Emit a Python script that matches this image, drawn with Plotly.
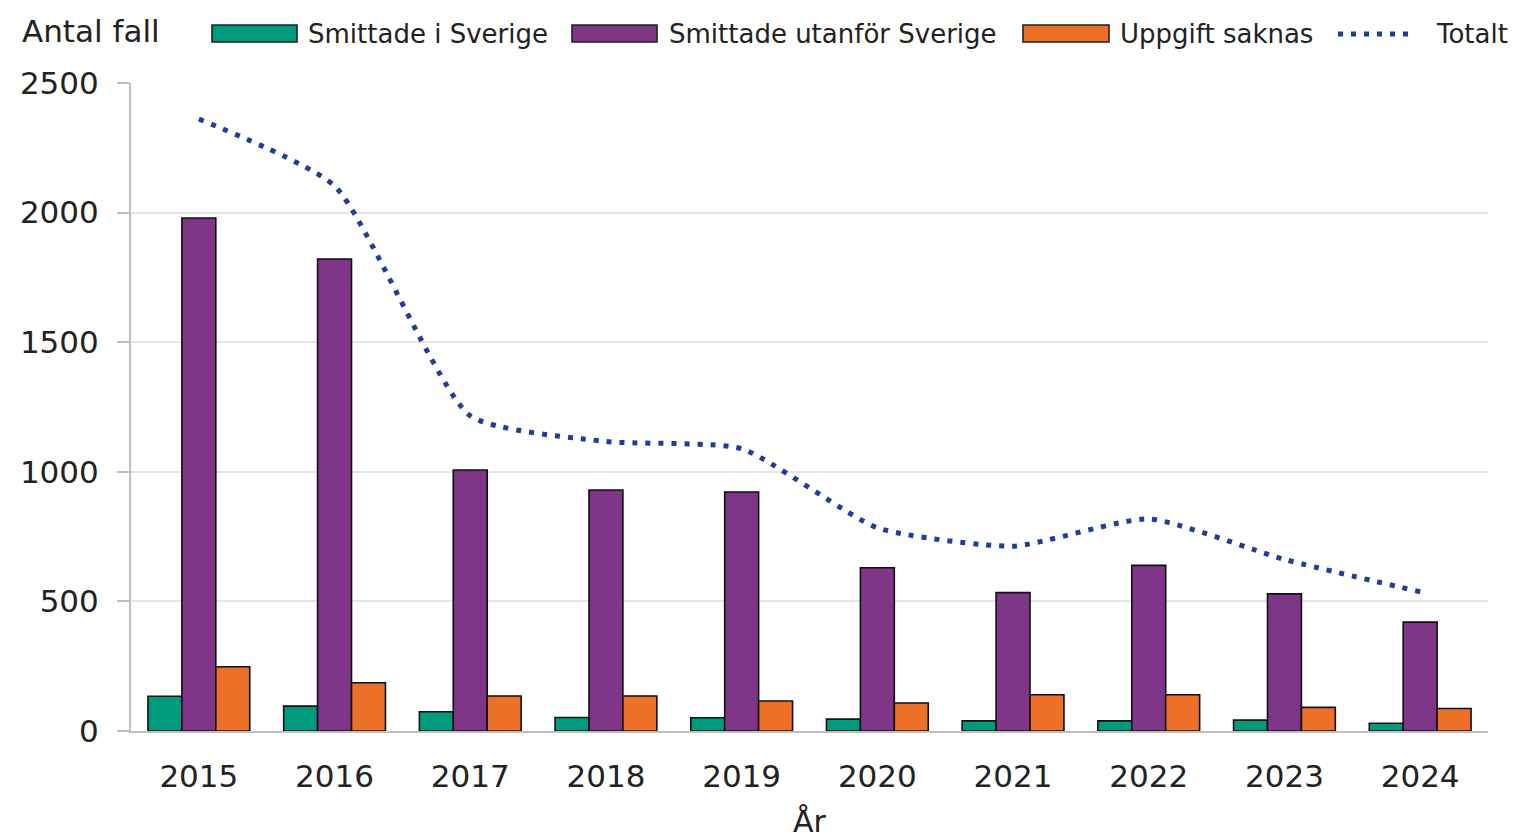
import plotly.graph_objects as go

# ---- data ----
years = ["2015", "2016", "2017", "2018", "2019", "2020", "2021", "2022", "2023", "2024"]
smittade_i_sverige = [134, 96, 74, 52, 51, 46, 39, 39, 42, 30]
smittade_utanfor = [1979, 1821, 1007, 930, 922, 630, 534, 639, 529, 420]
uppgift_saknas = [248, 186, 135, 135, 116, 108, 140, 140, 91, 87]
totalt = [2361, 2103, 1216, 1117, 1089, 784, 713, 818, 662, 537]

series_names = ["Smittade i Sverige", "Smittade utanför Sverige", "Uppgift saknas", "Totalt"]
colors = ["#009B7D", "#7F3588", "#EC7027", "#1F3D99"]
y_ticks = [0, 500, 1000, 1500, 2000, 2500]

# ---- layout geometry ----
W, H = 1517, 840
L, R, T, B = 131, 29, 83, 109
FONT = "DejaVu Sans"
TXT = "#222222"
DASH = "5px,8px"


def py(p):
    return (H - B - p) / (H - T - B)


def px(p):
    return (p - L) / (W - L - R)


fig = go.Figure()
for vals, name, col in zip([smittade_i_sverige, smittade_utanfor, uppgift_saknas], series_names[:3], colors[:3]):
    fig.add_trace(go.Bar(
        x=years, y=vals, name=name,
        marker=dict(color=col, line=dict(color="#111111", width=1.6)),
        showlegend=False,
    ))

fig.add_trace(go.Scatter(
    x=years, y=totalt, name=series_names[3], mode="lines",
    line=dict(color=colors[3], width=5, dash=DASH, shape="spline", smoothing=0.55),
    showlegend=False,
))

# ---- manual legend (matches the wide swatches of the reference) ----
shapes = []
annotations = []
legend_items = [
    (212, 297, 306),
    (572, 657, 667),
    (1023, 1109, 1118),
]
for (x0, x1, tx), name, col in zip(legend_items, series_names[:3], colors[:3]):
    shapes.append(dict(type="rect", xref="paper", yref="paper",
                       x0=px(x0), x1=px(x1), y0=py(42), y1=py(25),
                       fillcolor=col, line=dict(color="#222222", width=1.6)))
    annotations.append(dict(text=name, xref="paper", yref="paper", x=px(tx), y=py(34),
                            xanchor="left", yanchor="middle", showarrow=False,
                            font=dict(family=FONT, size=26, color=TXT)))
shapes.append(dict(type="line", xref="paper", yref="paper",
                   x0=px(1338), x1=px(1416), y0=py(34), y1=py(34),
                   line=dict(color=colors[3], width=5, dash=DASH)))
annotations.append(dict(text=series_names[3], xref="paper", yref="paper", x=px(1434), y=py(34),
                        xanchor="left", yanchor="middle", showarrow=False,
                        font=dict(family=FONT, size=26, color=TXT)))

# axis titles
annotations.append(dict(text="Antal fall", xref="paper", yref="paper", x=px(20), y=py(31),
                        xanchor="left", yanchor="middle", showarrow=False,
                        font=dict(family=FONT, size=31, color=TXT)))
annotations.append(dict(text="År", xref="paper", yref="paper", x=px(810), y=py(821),
                        xanchor="center", yanchor="middle", showarrow=False,
                        font=dict(family=FONT, size=30, color=TXT)))

fig.update_layout(
    width=W, height=H,
    margin=dict(l=L, r=R, t=T, b=B, autoexpand=False),
    paper_bgcolor="white", plot_bgcolor="white",
    barmode="group", bargap=0.25, bargroupgap=0,
    shapes=shapes, annotations=annotations,
    showlegend=False,
    font=dict(family=FONT, color=TXT),
)
fig.update_xaxes(
    type="category", showgrid=False, showline=True, linecolor="#BFBFBF", linewidth=2,
    ticks="", tickfont=dict(family=FONT, size=31, color=TXT), ticklabelstandoff=17,
)
fig.update_yaxes(
    range=[0, 2500], tickvals=y_ticks, showgrid=True, gridcolor="#E6E6E6", gridwidth=2,
    showline=True, linecolor="#BFBFBF", linewidth=2, zeroline=False,
    ticks="outside", ticklen=12, tickwidth=2, tickcolor="#BFBFBF",
    tickfont=dict(family=FONT, size=31, color=TXT), ticklabelstandoff=12,
)

fig.write_html("out.html", config={"displayModeBar": False},
               post_script="document.body.style.margin='0';document.body.style.overflow='hidden';")
